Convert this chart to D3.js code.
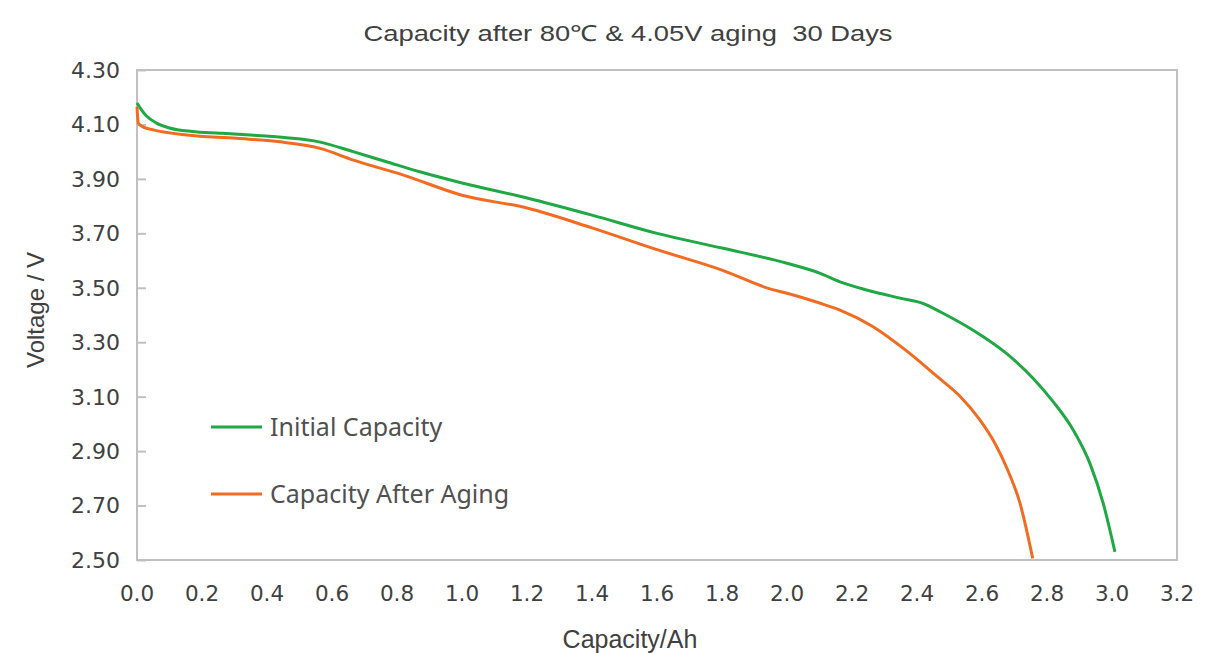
<!DOCTYPE html>
<html><head><meta charset="utf-8">
<script src="https://cdn.jsdelivr.net/npm/d3@7"></script>
<style>body{margin:0;background:#fff}svg{display:block}text{font-family:"Liberation Sans",Arial,sans-serif}</style>
</head><body><svg id="c" width="1229" height="653"></svg>
<script>
const title = "Capacity after 80\u2103 & 4.05V aging  30 Days";
const xLabel = "Capacity/Ah";
const yLabel = "Voltage / V";
const xTicks = [0,0.2,0.4,0.6,0.8,1.0,1.2,1.4,1.6,1.8,2.0,2.2,2.4,2.6,2.8,3.0,3.2];
const yTicks = [2.5,2.7,2.9,3.1,3.3,3.5,3.7,3.9,4.1,4.3];
const seriesNames = ["Initial Capacity","Capacity After Aging"];
const seriesColors = ["#1fa843","#f26b21"];
const initialCap = [0,0.01,0.03,0.06,0.10,0.17,0.255,0.36,0.46,0.56,0.665,0.77,0.87,1.0,1.2,1.4,1.6,1.8,2.0,2.1,2.163,2.245,2.348,2.42,2.471,2.574,2.676,2.757,2.820,2.881,2.932,2.973,3.009];
const initialV   = [4.179,4.16,4.13,4.105,4.087,4.074,4.068,4.060,4.051,4.036,4.000,3.962,3.926,3.885,3.830,3.767,3.700,3.646,3.590,3.554,3.522,3.492,3.462,3.442,3.412,3.343,3.258,3.168,3.080,2.977,2.855,2.708,2.530];
const agedCap = [0,0.004,0.02,0.05,0.153,0.307,0.46,0.563,0.666,0.82,1.0,1.2,1.4,1.6,1.8,1.95,2.0,2.1,2.163,2.265,2.368,2.46,2.53,2.59,2.64,2.68,2.717,2.756];
const agedV   = [4.165,4.105,4.09,4.08,4.061,4.049,4.033,4.012,3.969,3.914,3.840,3.793,3.720,3.640,3.565,3.495,3.480,3.444,3.418,3.357,3.268,3.176,3.104,3.020,2.928,2.828,2.708,2.506];

const svg = d3.select("#c");
const L=137,R=1177,T=70,B=560;
const x = d3.scaleLinear().domain([0,3.2]).range([L,R]);
const y = d3.scaleLinear().domain([2.5,4.3]).range([B,T]);
const tc="#404040";
const tickFont = "'DejaVu Sans',Verdana,sans-serif";

svg.append("text").attr("x",628).attr("y",41).attr("text-anchor","middle")
  .attr("font-size",22).attr("fill",tc).attr("xml:space","preserve").style("white-space","pre")
  .attr("textLength",529).attr("lengthAdjust","spacingAndGlyphs").text(title);

// frame
svg.append("rect").attr("x",L).attr("y",T).attr("width",R-L).attr("height",B-T)
  .attr("fill","none").attr("stroke","#c0c0c0").attr("stroke-width",2);

// y axis
const ya = svg.append("g").attr("transform",`translate(${L},0)`)
  .call(d3.axisRight(y).tickValues(yTicks).tickSize(9).tickFormat(()=>""));
ya.select(".domain").remove();
ya.selectAll("line").attr("stroke","#c0c0c0").attr("stroke-width",2);
svg.append("g").selectAll("text").data(yTicks).join("text")
  .attr("x",120).attr("y",d=>y(d)).attr("dy","0.36em").attr("text-anchor","end")
  .style("font-family",tickFont).attr("font-size",22).attr("fill",tc).text(d=>d3.format(".2f")(d));

// x axis labels
svg.append("g").selectAll("text").data(xTicks).join("text")
  .attr("x",d=>x(d)).attr("y",601).attr("text-anchor","middle")
  .style("font-family",tickFont).attr("font-size",21.5).attr("fill",tc).text(d=>d3.format(".1f")(d));

svg.append("text").attr("x",630).attr("y",648).attr("text-anchor","middle")
  .attr("font-size",25).attr("fill",tc).text(xLabel);
svg.append("text").attr("transform","translate(44,310) rotate(-90)").attr("text-anchor","middle")
  .attr("font-size",24).attr("fill",tc).text(yLabel);

const line = d3.line().x(d=>x(d[0])).y(d=>y(d[1])).curve(d3.curveMonotoneX);
const data = [d3.zip(initialCap,initialV), d3.zip(agedCap,agedV)];
svg.append("g").selectAll("path").data(data).join("path")
  .attr("d",line).attr("fill","none").attr("stroke",(d,i)=>seriesColors[i])
  .attr("stroke-width",3).attr("stroke-linejoin","round");

// legend
const lg = svg.append("g");
[427,494].forEach((ly,i)=>{
  lg.append("line").attr("x1",211).attr("x2",262).attr("y1",ly).attr("y2",ly)
    .attr("stroke",seriesColors[i]).attr("stroke-width",3);
  lg.append("text").attr("x",270).attr("y",ly).attr("dy","0.35em")
    .style("font-family","'Noto Sans',sans-serif")
    .attr("font-size",25).attr("fill","#505050").text(seriesNames[i]);
});
</script></body></html>
